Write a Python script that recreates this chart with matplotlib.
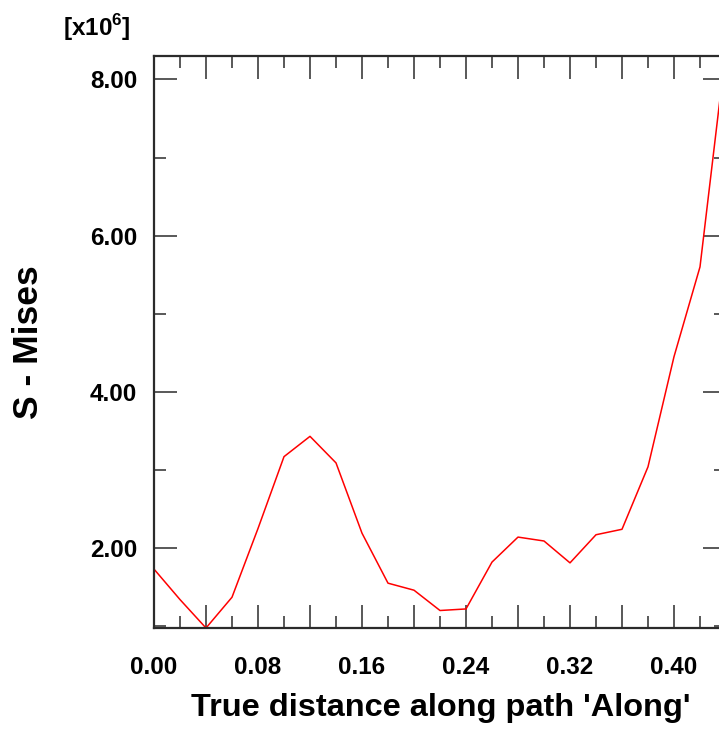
import matplotlib
matplotlib.use("Agg")
import matplotlib.pyplot as plt
from matplotlib.ticker import MultipleLocator, FuncFormatter

plt.rcParams["font.family"] = ["Liberation Sans", "DejaVu Sans"]
plt.rcParams["mathtext.fontset"] = "custom"
plt.rcParams["mathtext.rm"] = "Liberation Sans:bold"
plt.rcParams["mathtext.bf"] = "Liberation Sans:bold"

# Path distance and von Mises stress (units of 1e6)
distance = [0.00, 0.02, 0.04, 0.06, 0.08, 0.10, 0.12, 0.14, 0.16, 0.18, 0.20,
            0.22, 0.24, 0.26, 0.28, 0.30, 0.32, 0.34, 0.36, 0.38, 0.40, 0.42, 0.44]
mises = [1.73, 1.34, 0.976, 1.37, 2.25, 3.17, 3.43, 3.09, 2.19, 1.55, 1.46,
         1.20, 1.22, 1.82, 2.14, 2.09, 1.81, 2.17, 2.24, 3.04, 4.45, 5.60, 8.40]

x_label = "True distance along path 'Along'"
y_label = "S - Mises"
scale_label = r"[x10$^{6}$]"

W, H = 719, 731
fig = plt.figure(figsize=(W / 100, H / 100), dpi=100)
left, right, top, bottom = 154, 726, 56, 628
ax = fig.add_axes([left / W, 1 - bottom / H, (right - left) / W, (bottom - top) / H])

ax.plot(distance, mises, color="#ff0000", linewidth=1.1)

ax.set_xlim(0.0, 0.44)
ax.set_ylim(0.976, 8.30)

edge = "#2b2b2b"
for side, sp in ax.spines.items():
    sp.set_color(edge)
    sp.set_linewidth(1.6)

ax.xaxis.set_major_locator(MultipleLocator(0.04))
ax.xaxis.set_minor_locator(MultipleLocator(0.02))
ax.yaxis.set_major_locator(MultipleLocator(2.0))
ax.yaxis.set_minor_locator(MultipleLocator(1.0))


def xfmt(v, pos):
    k = round(v / 0.04)
    return f"{v:.2f}" if k % 2 == 0 else ""


ax.xaxis.set_major_formatter(FuncFormatter(xfmt))
ax.yaxis.set_major_formatter(FuncFormatter(lambda v, p: f"{v:.2f}"))

ax.tick_params(which="both", direction="in", top=True, right=True,
               color=edge, width=1.1)
ax.tick_params(which="major", length=16.5)
ax.tick_params(which="minor", length=8.5)
ax.tick_params(axis="x", which="major", pad=20, labelsize=17.5)
ax.tick_params(axis="y", which="major", pad=12, labelsize=17.5)
for lab in ax.get_xticklabels() + ax.get_yticklabels():
    lab.set_fontweight("bold")

fig.text(441 / W, 1 - 716 / H, x_label, ha="center", va="baseline",
         fontsize=23.4, fontweight="bold")
fig.text(28 / W, 1 - 342 / H, y_label, ha="center", va="center",
         rotation=90, fontsize=25.5, fontweight="bold")
fig.text(97 / W, 1 - 28 / H, scale_label, ha="center", va="center",
         fontsize=17.5, fontweight="bold")

fig.savefig("out.png", dpi=100)
